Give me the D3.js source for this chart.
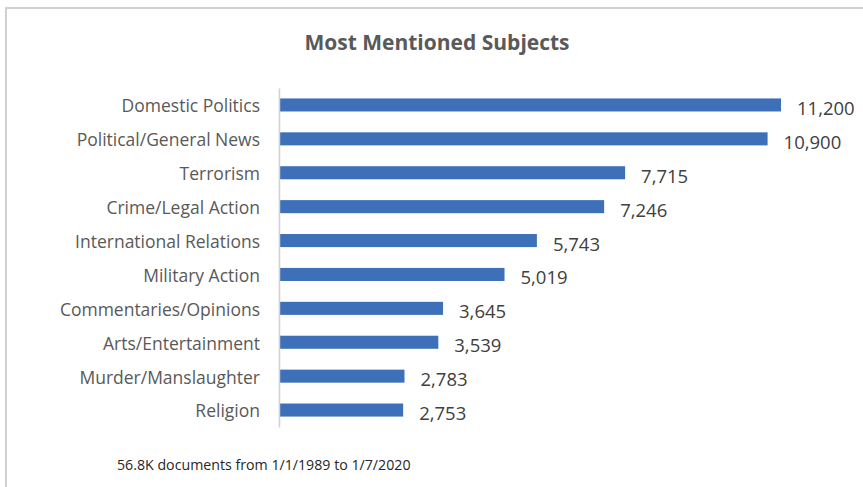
<!DOCTYPE html>
<html>
<head>
<meta charset="utf-8">
<script src="https://cdn.jsdelivr.net/npm/d3@7"></script>
<style>
  html, body { margin: 0; padding: 0; background: #ffffff; }
  svg { display: block; }
</style>
</head>
<body>
<svg id="chart" width="863" height="487"></svg>
<script>
const categories = [
  "Domestic Politics",
  "Political/General News",
  "Terrorism",
  "Crime/Legal Action",
  "International Relations",
  "Military Action",
  "Commentaries/Opinions",
  "Arts/Entertainment",
  "Murder/Manslaughter",
  "Religion"
];
const values = [11200, 10900, 7715, 7246, 5743, 5019, 3645, 3539, 2783, 2753];
const valueLabels = ["11,200", "10,900", "7,715", "7,246", "5,743", "5,019", "3,645", "3,539", "2,783", "2,753"];
const titleText = "Most Mentioned Subjects";
const footnoteText = "56.8K documents from 1/1/1989 to 1/7/2020";

const svg = d3.select("#chart");
const W = 863, H = 487;
const font = "'Open Sans', 'Liberation Sans', sans-serif";

// chart border (cropped at right and bottom)
svg.append("path")
  .attr("d", `M6,${H + 2} L6,8 L${W + 2},8`)
  .attr("fill", "none")
  .attr("stroke", "#d0d0d0")
  .attr("stroke-width", 2);

const x = d3.scaleLinear().domain([0, 11200]).range([280, 781]);
const y = d3.scaleBand().domain(categories).range([88, 427])
  .paddingInner(0.615).paddingOuter(0.3075);

const data = categories.map((c, i) => ({ c, v: values[i], lab: valueLabels[i] }));

// title
svg.append("text")
  .attr("x", 437).attr("y", 50)
  .attr("text-anchor", "middle")
  .attr("font-family", font)
  .attr("font-size", 21)
  .attr("font-weight", "bold")
  .attr("fill", "#595959")
  .text(titleText);

// bars
svg.append("g").selectAll("rect").data(data).join("rect")
  .attr("x", x(0))
  .attr("y", d => y(d.c))
  .attr("width", d => x(d.v) - x(0))
  .attr("height", y.bandwidth())
  .attr("fill", "#3d70b9");

// axis (category axis line, no ticks)
const yAxis = d3.axisLeft(y).tickSize(0).tickPadding(19);
const gAxis = svg.append("g").attr("transform", `translate(${x(0) - 1},0)`).call(yAxis);
gAxis.select(".domain")
  .attr("stroke", "#d0d0d0")
  .attr("stroke-width", 1.5);
gAxis.selectAll(".tick text")
  .attr("font-family", font)
  .attr("font-size", 17.5)
  .attr("fill", "#595959")
  .attr("dy", "0.42em");

// value labels
svg.append("g").selectAll("text").data(data).join("text")
  .attr("x", d => x(d.v) + 16)
  .attr("y", d => y(d.c) + y.bandwidth() / 2 + 10)
  .attr("font-family", font)
  .attr("font-size", 18.5)
  .attr("fill", "#404040")
  .text(d => d.lab);

// footnote
svg.append("text")
  .attr("x", 117).attr("y", 470)
  .attr("font-family", font)
  .attr("font-size", 14.2)
  .attr("fill", "#262626")
  .text(footnoteText);
</script>
</body>
</html>
